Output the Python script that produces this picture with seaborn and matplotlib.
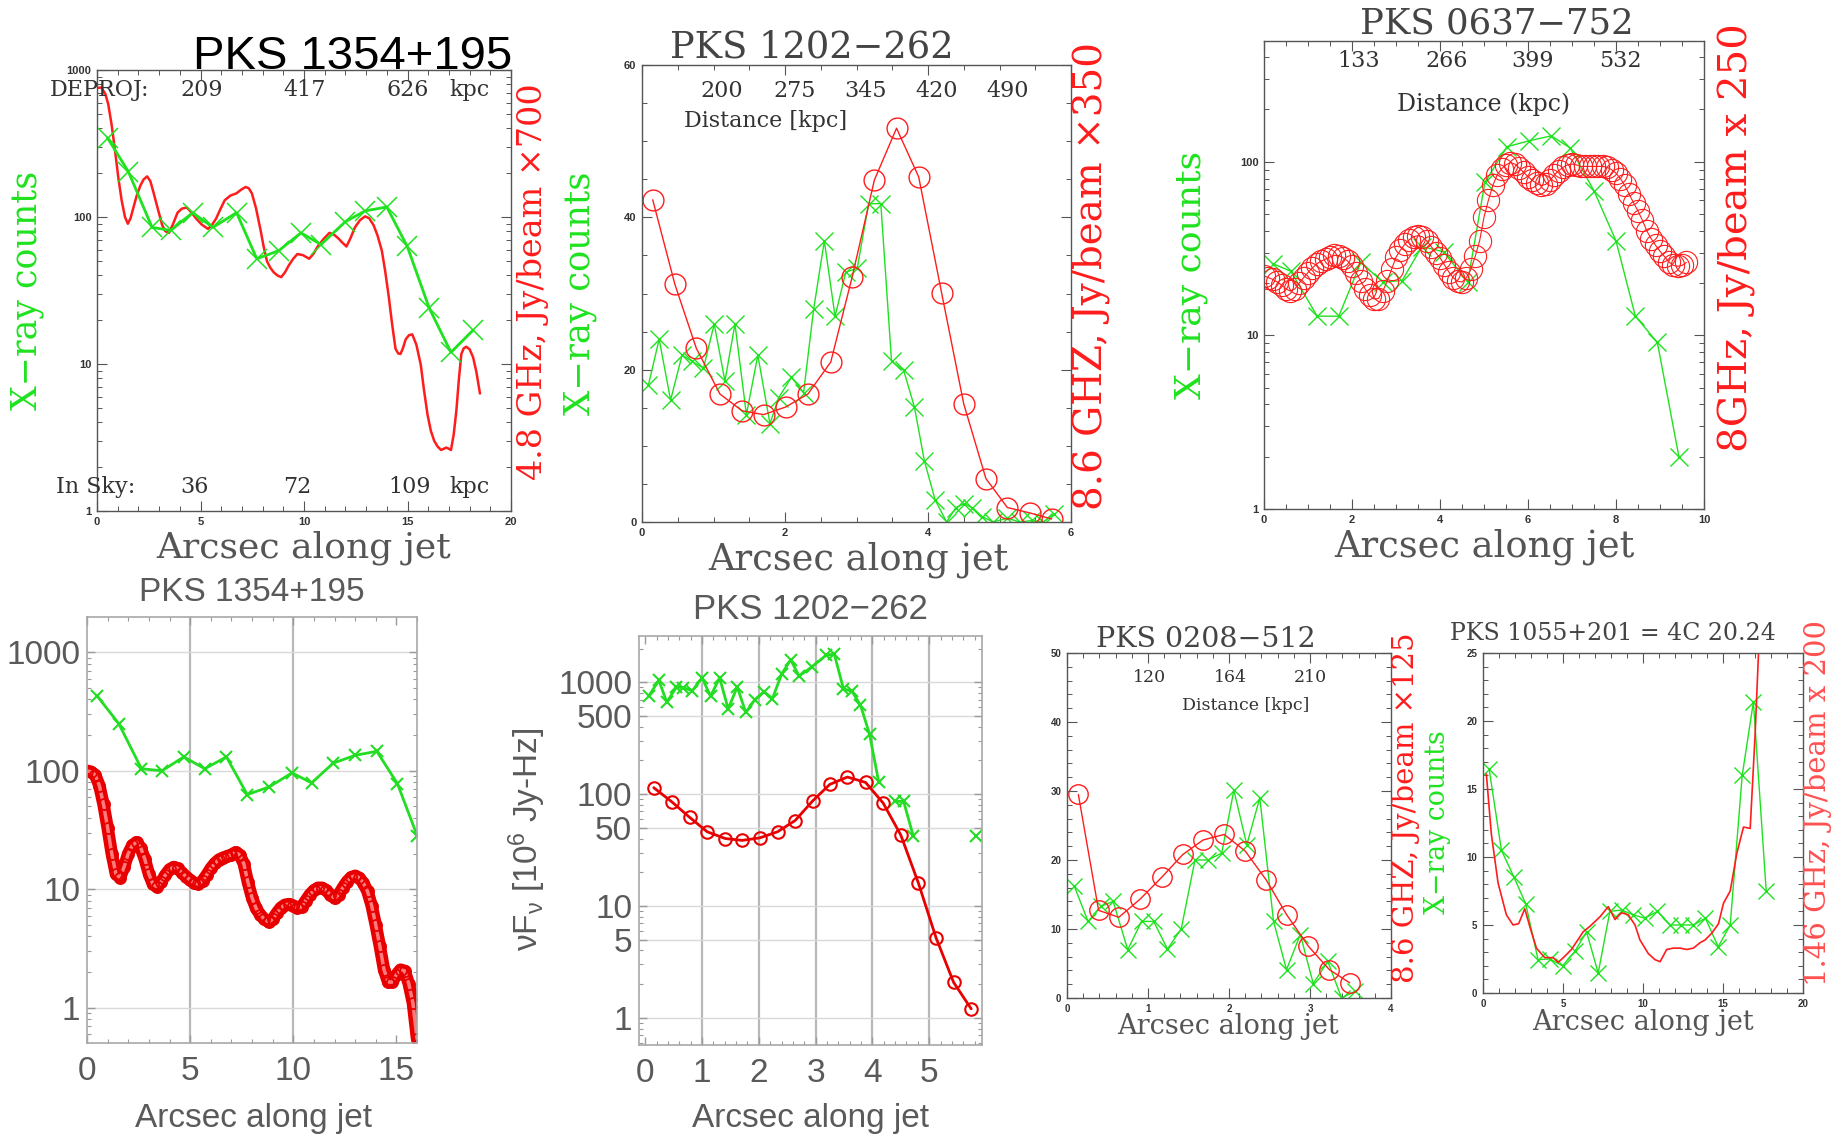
import numpy as np
import pandas as pd
import seaborn as sns
import matplotlib.pyplot as plt
from matplotlib.ticker import MultipleLocator, LogLocator, NullFormatter
import matplotlib.transforms as mtransforms

# ---------------- values ----------------
# top left: PKS 1354+195 (log counts)
p1_xray_x = [0.51, 1.52, 2.66, 3.56, 4.62, 5.6, 6.74, 7.72, 8.78, 9.85, 10.82, 12.0, 12.95, 14.0, 14.99, 16.05, 17.1, 18.17]
p1_xray_y = [345, 203, 85, 81, 107, 85, 107, 52, 59, 78, 65, 93, 110, 117, 63, 24, 12, 17]
p1_radio_x = [0, 0.2, 0.4, 0.54, 0.7, 0.87, 1.03, 1.19, 1.35, 1.49, 1.62, 1.76, 1.92, 2.09, 2.25, 2.42, 2.58, 2.74,
              2.95, 3.15, 3.3, 3.48, 3.68, 3.89, 4.1, 4.34, 4.55, 4.78, 5.05, 5.36, 5.55, 5.76, 5.96, 6.17, 6.45,
              6.74, 6.95, 7.18, 7.33, 7.48, 7.68, 7.89, 8.05, 8.21, 8.38, 8.54, 8.72, 8.9, 9.08, 9.27, 9.48, 9.68,
              9.95, 10.25, 10.45, 10.66, 10.95, 11.23, 11.44, 11.64, 11.85, 12.05, 12.25, 12.46, 12.7, 12.95, 13.15,
              13.36, 13.55, 13.76, 13.92, 14.09, 14.25, 14.42, 14.55, 14.66, 14.78, 14.91, 15.07, 15.23, 15.43,
              15.64, 15.8, 15.97, 16.13, 16.29, 16.45, 16.62, 16.75, 16.87, 17.0, 17.1, 17.23, 17.36, 17.48, 17.6,
              17.72, 17.84, 18.0, 18.17, 18.33, 18.5]
p1_radio_y = [755, 760, 690, 588, 430, 284, 185, 130, 100, 90, 98, 116, 140, 163, 180, 189, 175, 145, 112, 88, 80,
              78, 90, 107, 114, 116, 108, 98, 89, 83, 88, 98, 113, 130, 140, 145, 153, 160, 157, 145, 115, 83, 63, 50,
              45, 42, 40, 39, 42, 47, 52, 56, 55, 52, 56, 63, 71, 78, 76, 72, 67, 63, 72, 85, 95, 101, 98, 88, 75,
              59, 43, 29, 19, 12.7, 11.8, 11.7, 12.8, 14.7, 15.7, 15.9, 13.5, 9.9, 6.6, 4.5, 3.5, 3.0, 2.75, 2.6,
              2.65, 2.7, 2.65, 2.6, 3.3, 4.8, 7.8, 11.7, 12.8, 13.1, 12.6, 11.1, 8.8, 6.3]
p1_deproj_pos = [5.07, 10.05, 15.03]
p1_deproj_lab = ['209', '417', '626']
p1_sky_pos = [4.7, 9.66, 15.1]
p1_sky_lab = ['36', '72', '109']

# top middle: PKS 1202-262 (linear counts)
p2_xray_x = [0.09, 0.24, 0.40, 0.56, 0.70, 0.86, 1.01, 1.16, 1.30, 1.46, 1.62, 1.79, 1.91, 2.09, 2.26, 2.40, 2.55,
             2.70, 2.85, 3.01, 3.17, 3.34, 3.49, 3.66, 3.81, 3.95, 4.10, 4.26, 4.39, 4.51, 4.61, 4.76, 4.91, 5.11,
             5.28, 5.46, 5.61, 5.76]
p2_xray_y = [18, 24, 16, 21.9, 21.1, 20.2, 26, 18.5, 26, 14.1, 21.9, 12.9, 16.3, 19, 17, 27.9, 36.9, 27, 32.8, 33.3,
             41.8, 41.8, 21.1, 19.9, 15.1, 8.0, 2.9, 0, 1.9, 2.4, 1.9, 0.7, 0, 0.5, 0, 0.2, 0, 1]
p2_radio_x = [0.15, 0.46, 0.76, 1.09, 1.40, 1.70, 2.01, 2.32, 2.64, 2.94, 3.25, 3.56, 3.87, 4.19, 4.50, 4.81, 5.11,
              5.42, 5.73]
p2_radio_y = [42.3, 31.2, 22.8, 16.8, 14.6, 14.1, 15.1, 16.8, 21, 32.2, 44.9, 51.7, 45.3, 30.1, 15.5, 5.7, 1.9, 1.2, 0.4]
p2_kpc_pos = [1.11, 2.13, 3.13, 4.12, 5.12]
p2_kpc_lab = ['200', '275', '345', '420', '490']

# top right: PKS 0637-752 (log counts)
p3_xray_x = [0.2, 0.61, 1.21, 1.70, 2.20, 2.70, 3.14, 3.59, 4.08, 4.63, 5.02, 5.52, 6.02, 6.53, 6.96, 7.50, 8.0,
             8.44, 8.94, 9.43]
p3_xray_y = [25.9, 23.4, 12.9, 12.9, 26.3, 20.3, 20.7, 32.5, 30.3, 20.3, 76, 122, 132, 141, 120, 68, 35, 12.9, 9.1, 2.0]
p3_radio_x = np.round(np.arange(0, 9.65, 0.1), 2)
p3_radio_y = [22, 21.5, 21, 20.3, 19.5, 18.5, 18, 18.5, 20, 21.5, 23, 24.5, 25.8, 26.8, 27.5, 28.3, 28.9, 28.8, 28,
              26.8, 25, 22.8, 20.5, 18.5, 17, 16.2, 16.3, 18, 20.5, 24, 28.2, 31, 33.5, 35.5, 37, 37.5, 37, 35, 32.5,
              30, 28, 25.5, 23.2, 21.5, 20.5, 20.3, 21.5, 24, 28.5, 35, 48, 60, 73, 84, 91, 96, 99, 97, 92, 87, 82,
              78, 75, 73, 74, 78, 84, 89, 93, 96, 97, 96, 94, 94, 94, 94, 94, 94, 93, 90, 86, 80, 73, 65, 58, 52, 46,
              40, 36, 33, 30.5, 28.5, 26.5, 25.3, 25, 25.3, 26.3]
p3_kpc_pos = [2.16, 4.14, 6.11, 8.11]
p3_kpc_lab = ['133', '266', '399', '532']

# bottom left: PKS 1354+195 (Mathematica style)
p4_xray_x = [0.49, 1.54, 2.64, 3.64, 4.69, 5.71, 6.76, 7.77, 8.83, 9.94, 10.89, 11.94, 13.0, 14.05, 15.05, 16.02]
p4_xray_y = [428, 250, 104, 100, 131, 104, 131, 63, 73, 96, 79, 116, 135, 146, 78, 28]
p4_radio_x = np.round(np.arange(0, 16.05, 0.2), 2)
p4_radio_y = [100, 98, 92, 75, 52, 33, 20, 13.5, 12.5, 15.5, 20, 23.5, 25, 22.5, 18, 13.5, 11, 10.5, 11.6, 13.2,
              14.7, 15.4, 15, 13.8, 12.8, 12, 11.3, 11.1, 11.8, 13.2, 15, 16.6, 17.8, 18.5, 19, 19.6, 20.5, 19.5,
              16.5, 11.5, 8.5, 6.9, 6.1, 5.6, 5.3, 5.6, 6.3, 7.0, 7.4, 7.5, 7.3, 7.0, 7.1, 8.0, 9.0, 9.8, 10.3, 10.3,
              9.8, 9.0, 8.4, 9.0, 10.3, 11.6, 12.6, 13.0, 12.5, 11.3, 9.6, 7.3, 5.0, 3.3, 2.1, 1.65, 1.65, 1.9, 2.1,
              2.05, 1.6, 1.1, 0.55]

# bottom middle: PKS 1202-262 (Mathematica style, nuFnu)
p5_xray_x = [0.06, 0.24, 0.38, 0.55, 0.66, 0.83, 1.0, 1.15, 1.31, 1.46, 1.62, 1.77, 1.93, 2.09, 2.24, 2.40, 2.56,
             2.71, 2.93, 3.19, 3.33, 3.49, 3.64, 3.79, 3.95, 4.11, 4.39, 4.55, 4.72, 5.83]
p5_xray_y = [752, 1037, 662, 906, 893, 841, 1093, 752, 1093, 578, 906, 537, 698, 823, 713, 1178, 1588, 1135, 1368,
             1752, 1778, 873, 829, 624, 343, 129, 86, 86, 42, 42]
p5_xray_seg = [0] * 26 + [1] * 3 + [2]
p5_radio_x = [0.15, 0.47, 0.78, 1.09, 1.41, 1.71, 2.02, 2.33, 2.64, 2.95, 3.25, 3.56, 3.88, 4.19, 4.5, 4.81, 5.12,
              5.43, 5.74]
p5_radio_y = [114, 85, 62, 46, 40, 38.5, 40.6, 46, 58, 87, 122, 142, 127, 83, 43, 16, 5.2, 2.07, 1.2]

# bottom right 1: PKS 0208-512
p6_xray_x = [0.09, 0.26, 0.42, 0.57, 0.75, 0.92, 1.07, 1.24, 1.41, 1.58, 1.74, 1.91, 2.06, 2.22, 2.38, 2.55, 2.71,
             2.88, 3.04, 3.22, 3.39, 3.56]
p6_xray_y = [16.2, 11.1, 13.3, 14.0, 7.0, 11.1, 11.1, 7.1, 10.0, 20.0, 20.0, 21.0, 30.1, 22.2, 29.0, 11.1, 4.1, 9.2,
             2.1, 5.3, 0.0, 1.0]
p6_radio_x = [0.14, 0.39, 0.64, 0.90, 1.17, 1.43, 1.68, 1.94, 2.20, 2.46, 2.71, 2.98, 3.24, 3.49]
p6_radio_y = [29.5, 12.7, 11.7, 14.3, 17.5, 20.8, 22.9, 23.7, 21.3, 17.1, 12.1, 7.5, 4.1, 2.2]
p6_kpc_pos = [1.02, 2.02, 3.01]
p6_kpc_lab = ['120', '164', '210']

# bottom right 2: PKS 1055+201
p7_xray_x = [0.38, 1.15, 1.92, 2.67, 3.44, 4.18, 4.97, 5.74, 6.47, 7.20, 7.93, 8.66, 9.39, 10.1, 10.9, 11.7, 12.4,
             13.15, 13.9, 14.7, 15.45, 16.2, 16.9, 17.7]
p7_xray_y = [16.5, 10.5, 8.56, 6.56, 2.45, 2.5, 2.0, 3.06, 4.5, 1.47, 6.0, 6.1, 5.75, 5.5, 6.0, 5.0, 5.0, 5.0, 5.5,
             3.4, 5.0, 16.0, 21.4, 7.5]
p7_radio_x = [0.21, 0.52, 0.94, 1.46, 1.88, 2.23, 2.61, 2.92, 3.34, 3.86, 4.38, 4.70, 5.11, 5.53, 6.26, 6.68, 7.31,
              7.83, 8.25, 8.66, 9.08, 9.50, 9.81, 10.33, 10.75, 11.07, 11.48, 11.90, 12.32, 12.73, 13.15, 13.57,
              13.88, 14.30, 14.72, 15.03, 15.45, 15.87, 16.28, 16.70, 17.01, 17.22, 17.33]
p7_radio_y = [16.1, 11.7, 8.1, 5.75, 5.0, 5.1, 6.2, 4.9, 3.3, 2.6, 2.6, 2.25, 2.7, 3.2, 4.5, 4.9, 5.6, 6.35, 5.4,
              5.9, 5.75, 5.0, 3.9, 2.9, 2.45, 2.3, 3.2, 3.3, 3.3, 3.2, 3.3, 3.7, 3.9, 4.4, 5.1, 6.6, 7.5, 10.3, 12.2,
              12.1, 19.1, 25.0, 27.0]

# ---------------- style ----------------
sns.set_theme(style='ticks')
plt.rcParams['font.family'] = ['Liberation Sans', 'DejaVu Sans']
plt.rcParams['mathtext.fontset'] = 'custom'
plt.rcParams['mathtext.rm'] = 'Liberation Sans'
plt.rcParams['mathtext.it'] = 'Liberation Sans'

W, H = 1844, 1141
GREEN = '#1fe21f'
RED = '#ff1c1c'
MGREEN = '#22dd22'
MRED = '#e80000'
INK = '#333333'
SERIF = 'DejaVu Serif'
MGRAY = '#5a5a5a'

fig = plt.figure(figsize=(W / 100, H / 100), dpi=100)


def box(l, t, r, b):
    return [l / W, 1 - b / H, (r - l) / W, (b - t) / H]


def ftext(px, py, s, **kw):
    fig.text(px / W, 1 - py / H, s, **kw)


def pg_frame(ax, xticks, xminor, yticks, yminor=None, log=False, size=8):
    for sp in ax.spines.values():
        sp.set_color('#555555')
        sp.set_linewidth(1.0)
    if log:
        ax.set_yscale('log')
        ax.yaxis.set_minor_locator(LogLocator(base=10, subs=np.arange(2, 10)))
        ax.yaxis.set_minor_formatter(NullFormatter())
    else:
        ax.yaxis.set_minor_locator(MultipleLocator(yminor))
    ax.set_xticks(xticks, labels=[f'{v:g}' for v in xticks], fontweight='bold', fontsize=size, color=INK)
    ax.set_yticks(yticks, labels=[f'{v:g}' for v in yticks], fontweight='bold', fontsize=size, color=INK)
    ax.xaxis.set_minor_locator(MultipleLocator(xminor))
    ax.tick_params(which='both', direction='in', top=True, right=True, color='#555555', pad=4)
    ax.tick_params(which='major', length=7, width=0.8)
    ax.tick_params(which='minor', length=3.5, width=0.7)
    ax.set_xlabel('')
    ax.set_ylabel('')


def mm_frame(ax, xticks, xminor, yticks, vgrid):
    for sp in ax.spines.values():
        sp.set_color('#a8a8a8')
        sp.set_linewidth(1.2)
    ax.set_yscale('log')
    ax.set_xticks(xticks, labels=[f'{v:g}' for v in xticks], fontsize=24, color=MGRAY)
    ax.set_yticks(yticks, labels=[f'{v:g}' for v in yticks], fontsize=24, color=MGRAY)
    ax.xaxis.set_minor_locator(MultipleLocator(xminor))
    ax.yaxis.set_minor_locator(LogLocator(base=10, subs=np.arange(2, 10)))
    ax.yaxis.set_minor_formatter(NullFormatter())
    ax.tick_params(which='both', direction='in', top=True, right=True, color='#9a9a9a')
    ax.tick_params(axis='x', which='major', pad=9)
    ax.tick_params(axis='y', which='major', pad=5)
    ax.tick_params(which='major', length=6, width=1)
    ax.tick_params(which='minor', length=3, width=0.8)
    ax.grid(axis='y', which='major', color='#d9d9d9', lw=1)
    for v in vgrid:
        ax.axvline(v, color='#b8b8b8', lw=1.6, zorder=0.5)
    ax.set_xlabel('')
    ax.set_ylabel('')


def xcross(ax, x, y, color, ms, lw, mew, **kw):
    sns.lineplot(x=x, y=y, ax=ax, color=color, lw=lw, marker='x', markersize=ms,
                 markeredgecolor=color, markeredgewidth=mew, estimator=None, **kw)


def rings(ax, x, y, color, ms, lw, mew, ls='-'):
    sns.lineplot(x=x, y=y, ax=ax, color=color, lw=lw, ls=ls, marker='o', markersize=ms,
                 markerfacecolor='none', markeredgecolor=color, markeredgewidth=mew, estimator=None)


# ---------------- panel 1 ----------------
ax1 = fig.add_axes(box(97, 70, 511, 511))
sns.lineplot(x=p1_radio_x, y=p1_radio_y, ax=ax1, color=RED, lw=1.8, estimator=None)
xcross(ax1, p1_xray_x, p1_xray_y, GREEN, 15, 2.0, 1.1)
pg_frame(ax1, [0, 5, 10, 15, 20], 1, [1, 10, 100, 1000], log=True)
ax1.set_xlim(0, 20)
ax1.set_ylim(1, 1000)
tr1 = mtransforms.blended_transform_factory(ax1.transData, ax1.transAxes)
ax1.text(-2.27, 0.94, 'DEPROJ:', transform=tr1, ha='left', va='baseline', fontsize=16, family=SERIF, color=INK, clip_on=False)
for pos, lab in zip(p1_deproj_pos, p1_deproj_lab):
    ax1.text(pos, 0.94, lab, transform=tr1, ha='center', va='baseline', fontsize=16, family=SERIF, color=INK)
ax1.text(17.0, 0.94, 'kpc', transform=tr1, ha='left', va='baseline', fontsize=16, family=SERIF, color=INK)
ax1.text(-1.98, 0.04, 'In Sky:', transform=tr1, ha='left', va='baseline', fontsize=16, family=SERIF, color=INK, clip_on=False)
for pos, lab in zip(p1_sky_pos, p1_sky_lab):
    ax1.text(pos, 0.04, lab, transform=tr1, ha='center', va='baseline', fontsize=16, family=SERIF, color=INK)
ax1.text(17.0, 0.04, 'kpc', transform=tr1, ha='left', va='baseline', fontsize=16, family=SERIF, color=INK)
ftext(353, 69, 'PKS 1354+195', ha='center', va='baseline', fontsize=34, color='black')
ftext(304, 548, 'Arcsec along jet', ha='center', va='center', fontsize=26, family=SERIF, color='#555555')
ftext(27, 290, 'X\u2212ray counts', ha='center', va='center', rotation=90, fontsize=25, family=SERIF, color=GREEN)
ftext(533, 282, '4.8 GHz, Jy/beam \u00d7700', ha='center', va='center', rotation=90, fontsize=24, family=SERIF, color=RED)

# ---------------- panel 2 ----------------
ax2 = fig.add_axes(box(642, 65, 1071, 522))
xcross(ax2, p2_xray_x, p2_xray_y, GREEN, 13, 1.0, 1.0)
rings(ax2, p2_radio_x, p2_radio_y, RED, 15, 1.0, 1.0)
pg_frame(ax2, [0, 2, 4, 6], 0.5, [0, 20, 40, 60], yminor=5)
ax2.set_xlim(0, 6)
ax2.set_ylim(0, 60)
tr2 = mtransforms.blended_transform_factory(ax2.transData, ax2.transAxes)
for pos, lab in zip(p2_kpc_pos, p2_kpc_lab):
    ax2.text(pos, 0.93, lab, transform=tr2, ha='center', va='baseline', fontsize=16, family=SERIF, color=INK)
ax2.text(0.287, 0.865, 'Distance [kpc]', transform=ax2.transAxes, ha='center', va='baseline', fontsize=16,
         family=SERIF, color=INK)
ftext(812, 57, 'PKS 1202\u2212262', ha='center', va='baseline', fontsize=26.5, family=SERIF, color='#444444')
ftext(858, 560, 'Arcsec along jet', ha='center', va='center', fontsize=26.5, family=SERIF, color='#555555')
ftext(580, 293, 'X\u2212ray counts', ha='center', va='center', rotation=90, fontsize=25.5, family=SERIF, color=GREEN)
ftext(1092, 276, '8.6 GHZ, Jy/beam \u00d7350', ha='center', va='center', rotation=90, fontsize=28, family=SERIF, color=RED)

# ---------------- panel 3 ----------------
ax3 = fig.add_axes(box(1264, 41, 1704, 509))
xcross(ax3, p3_xray_x, p3_xray_y, GREEN, 13, 1.0, 1.0)
rings(ax3, p3_radio_x, p3_radio_y, RED, 16, 0.8, 0.8)
pg_frame(ax3, [0, 2, 4, 6, 8, 10], 0.5, [1, 10, 100], log=True)
ax3.set_xlim(0, 10)
ax3.set_ylim(1, 496)
tr3 = mtransforms.blended_transform_factory(ax3.transData, ax3.transAxes)
for pos, lab in zip(p3_kpc_pos, p3_kpc_lab):
    ax3.text(pos, 0.945, lab, transform=tr3, ha='center', va='baseline', fontsize=16, family=SERIF, color=INK)
ax3.text(5.0, 0.85, 'Distance (kpc)', transform=tr3, ha='center', va='baseline', fontsize=17, family=SERIF, color=INK)
ftext(1497, 33, 'PKS 0637\u2212752', ha='center', va='baseline', fontsize=25.5, family=SERIF, color='#444444')
ftext(1484, 547, 'Arcsec along jet', ha='center', va='center', fontsize=26.5, family=SERIF, color='#555555')
ftext(1191, 275, 'X\u2212ray counts', ha='center', va='center', rotation=90, fontsize=26, family=SERIF, color=GREEN)
ftext(1737, 238, '8GHz, Jy/beam x 250', ha='center', va='center', rotation=90, fontsize=29, family=SERIF, color=RED)

# ---------------- panel 4 ----------------
ax4 = fig.add_axes(box(87, 617, 417, 1043))
sns.lineplot(x=p4_radio_x, y=p4_radio_y, ax=ax4, color=MRED, lw=9, estimator=None)
sns.lineplot(x=p4_radio_x, y=p4_radio_y, ax=ax4, color='#ff7a7a', lw=2.5, estimator=None)
rings(ax4, p4_radio_x, p4_radio_y, MRED, 8, 0, 1.3, ls='')
xcross(ax4, p4_xray_x, p4_xray_y, MGREEN, 8, 2.0, 1.5)
mm_frame(ax4, [0, 5, 10, 15], 1, [1, 10, 100, 1000], [5, 10])
ax4.set_xlim(0, 16)
ax4.set_ylim(0.505, 1983)
ftext(252, 601, 'PKS 1354+195', ha='center', va='baseline', fontsize=24, color=MGRAY)
ftext(253, 1118, 'Arcsec along jet', ha='center', va='center', fontsize=24, color=MGRAY)

# ---------------- panel 5 ----------------
ax5 = fig.add_axes(box(639, 636, 982, 1045))
sns.lineplot(x=p5_xray_x, y=p5_xray_y, units=p5_xray_seg, ax=ax5, color=MGREEN, lw=2.0, marker='x',
             markersize=9, markeredgecolor=MGREEN, markeredgewidth=1.5, estimator=None)
rings(ax5, p5_radio_x, p5_radio_y, MRED, 9, 2.0, 1.5)
mm_frame(ax5, [0, 1, 2, 3, 4, 5], 0.2, [1, 5, 10, 50, 100, 500, 1000], [1, 2, 3, 4, 5])
ax5.set_xlim(-0.11, 5.93)
ax5.set_ylim(0.57, 2590)
ftext(810, 619, 'PKS 1202\u2212262', ha='center', va='baseline', fontsize=25, color=MGRAY)
ftext(810, 1118, 'Arcsec along jet', ha='center', va='center', fontsize=24, color=MGRAY)
ftext(527, 839, '\u03bdF$_{\u03bd}$ [10$^{6}$ Jy-Hz]', ha='center', va='center', rotation=90, fontsize=24, color=MGRAY)

# ---------------- panel 6 ----------------
ax6 = fig.add_axes(box(1067, 653, 1391, 998))
xcross(ax6, p6_xray_x, p6_xray_y, GREEN, 11, 1.0, 1.0)
rings(ax6, p6_radio_x, p6_radio_y, RED, 14, 1.0, 1.0)
pg_frame(ax6, [0, 1, 2, 3, 4], 0.2, [0, 10, 20, 30, 40, 50], yminor=2, size=7)
ax6.set_xlim(0, 4)
ax6.set_ylim(0, 50)
tr6 = mtransforms.blended_transform_factory(ax6.transData, ax6.transAxes)
for pos, lab in zip(p6_kpc_pos, p6_kpc_lab):
    ax6.text(pos, 0.915, lab, transform=tr6, ha='center', va='baseline', fontsize=12.5, family=SERIF, color=INK)
ax6.text(2.2, 0.835, 'Distance [kpc]', transform=tr6, ha='center', va='baseline', fontsize=12.5, family=SERIF, color=INK)
ftext(1206, 647, 'PKS 0208\u2212512', ha='center', va='baseline', fontsize=20.5, family=SERIF, color='#444444')
ftext(1228, 1026, 'Arcsec along jet', ha='center', va='center', fontsize=19.5, family=SERIF, color='#555555')
ftext(1406, 808, '8.6 GHZ, Jy/beam \u00d7125', ha='center', va='center', rotation=90, fontsize=21, family=SERIF, color=RED)

# ---------------- panel 7 ----------------
ax7 = fig.add_axes(box(1483, 653, 1803, 993))
xcross(ax7, p7_xray_x, p7_xray_y, GREEN, 11, 1.0, 1.0)
sns.lineplot(x=p7_radio_x, y=p7_radio_y, ax=ax7, color=RED, lw=1.2, estimator=None)
pg_frame(ax7, [0, 5, 10, 15, 20], 1, [0, 5, 10, 15, 20, 25], yminor=1, size=7)
ax7.set_xlim(0, 20)
ax7.set_ylim(0, 25)
ftext(1613, 640, 'PKS 1055+201 = 4C 20.24', ha='center', va='baseline', fontsize=17, family=SERIF, color='#444444')
ftext(1643, 1022, 'Arcsec along jet', ha='center', va='center', fontsize=19.5, family=SERIF, color='#555555')
ftext(1437, 822, 'X\u2212ray counts', ha='center', va='center', rotation=90, fontsize=19.3, family=SERIF, color=GREEN)
ftext(1818, 803, '1.46 GHz, Jy/beam x 200', ha='center', va='center', rotation=90, fontsize=21, family=SERIF,
      color='#ff5050')

fig.savefig('out.png', dpi=100)
